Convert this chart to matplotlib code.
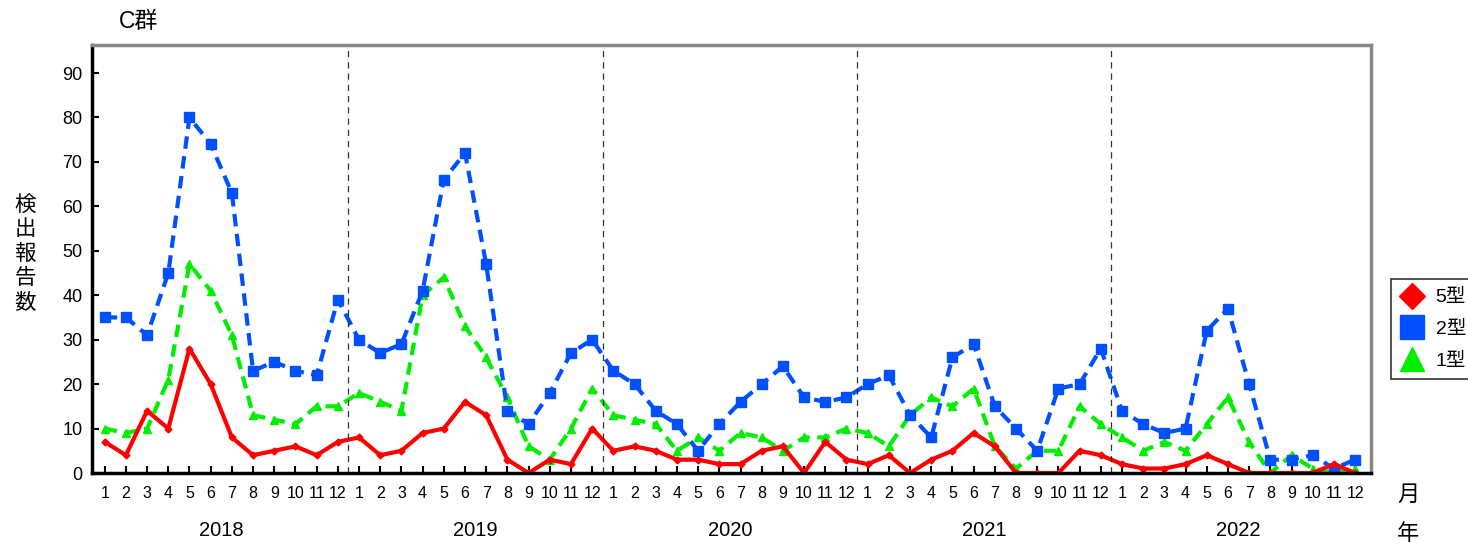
import matplotlib
matplotlib.use("Agg")
import matplotlib.pyplot as plt
from matplotlib.lines import Line2D
import numpy as np

plt.rcParams['font.family'] = ['Liberation Sans', 'Noto Sans CJK JP', 'DejaVu Sans']

years = ['2018', '2019', '2020', '2021', '2022']
months = [str(m) for m in range(1, 13)]

# 5型
type5 = [7, 4, 14, 10, 28, 20, 8, 4, 5, 6, 4, 7,
         8, 4, 5, 9, 10, 16, 13, 3, 0, 3, 2, 10,
         5, 6, 5, 3, 3, 2, 2, 5, 6, 0, 7, 3,
         2, 4, 0, 3, 5, 9, 6, 0, 0, 0, 5, 4,
         2, 1, 1, 2, 4, 2, 0, 0, 0, 0, 2, 0]
# 2型
type2 = [35, 35, 31, 45, 80, 74, 63, 23, 25, 23, 22, 39,
         30, 27, 29, 41, 66, 72, 47, 14, 11, 18, 27, 30,
         23, 20, 14, 11, 5, 11, 16, 20, 24, 17, 16, 17,
         20, 22, 13, 8, 26, 29, 15, 10, 5, 19, 20, 28,
         14, 11, 9, 10, 32, 37, 20, 3, 3, 4, 1, 3]
# 1型
type1 = [10, 9, 10, 21, 47, 41, 31, 13, 12, 11, 15, 15,
         18, 16, 14, 40, 44, 33, 26, 17, 6, 3, 10, 19,
         13, 12, 11, 5, 8, 5, 9, 8, 5, 8, 8, 10,
         9, 6, 13, 17, 15, 19, 6, 1, 5, 5, 15, 11,
         8, 5, 7, 5, 11, 17, 7, 0, 4, 1, 0, 1]

red = '#ff0000'
blue = '#0050ff'
green = '#00ee00'

x = np.arange(len(type5))

fig = plt.figure(figsize=(14.68, 5.46), dpi=100)
ax = fig.add_axes([92 / 1468, 1 - 473 / 546, (1371 - 92) / 1468, (473 - 45) / 546])

ax.plot(x, type1, color=green, lw=3, ls=(0, (3, 1.8)), marker='^', ms=6)
ax.plot(x, type2, color=blue, lw=3, ls=(0, (3, 1.8)), marker='s', ms=7)
ax.plot(x, type5, color=red, lw=3, ls='-', marker='D', ms=3.5)

# year separators
for i in range(1, len(years)):
    ax.axvline(12 * i - 0.5, color='#333333', lw=0.9, ls=(0, (5, 4)))

ax.set_xlim(-0.6, 59.75)
ax.set_ylim(0, 96.3)
ax.set_yticks(range(0, 100, 10))
ax.set_xticks(x)
ax.set_xticklabels(months * len(years))
ax.tick_params(axis='both', direction='in', length=5, width=1.5)
ax.tick_params(axis='x', pad=9, labelsize=11.5)
ax.tick_params(axis='y', pad=7, labelsize=13)

for s in ['left', 'bottom']:
    ax.spines[s].set_color('black')
    ax.spines[s].set_linewidth(2.5)
for s in ['top', 'right']:
    ax.spines[s].set_color('#888888')
    ax.spines[s].set_linewidth(2.5)

# year labels
for i, yr in enumerate(years):
    ax.text(12 * i + 5.5, -0.135, yr, transform=ax.get_xaxis_transform(),
            ha='center', va='center', fontsize=14.5)

fig.text(1408 / 1468, 1 - 495 / 546, '月', ha='center', va='center', fontsize=16)
fig.text(1408 / 1468, 1 - 535 / 546, '年', ha='center', va='center', fontsize=16)
fig.text(138 / 1468, 1 - 22 / 546, 'C群', ha='center', va='center', fontsize=16.5)
fig.text(25 / 1468, 1 - 254 / 546, '検\n出\n報\n告\n数', ha='center', va='center',
         fontsize=15.5, linespacing=1.22)

handles = [Line2D([], [], color=red, marker='D', ls='none', ms=13),
           Line2D([], [], color=blue, marker='s', ls='none', ms=17),
           Line2D([], [], color=green, marker='^', ls='none', ms=17)]
leg = fig.legend(handles, ['5型', '2型', '1型'], loc='upper left',
                 bbox_to_anchor=(1391 / 1468, 1 - 279 / 546), fontsize=14,
                 frameon=True, fancybox=False, edgecolor='black',
                 handlelength=1.2, handletextpad=0.6, labelspacing=0.72,
                 borderpad=0.5, borderaxespad=0)
leg.get_frame().set_linewidth(1.2)

fig.savefig('out.png', dpi=100)
